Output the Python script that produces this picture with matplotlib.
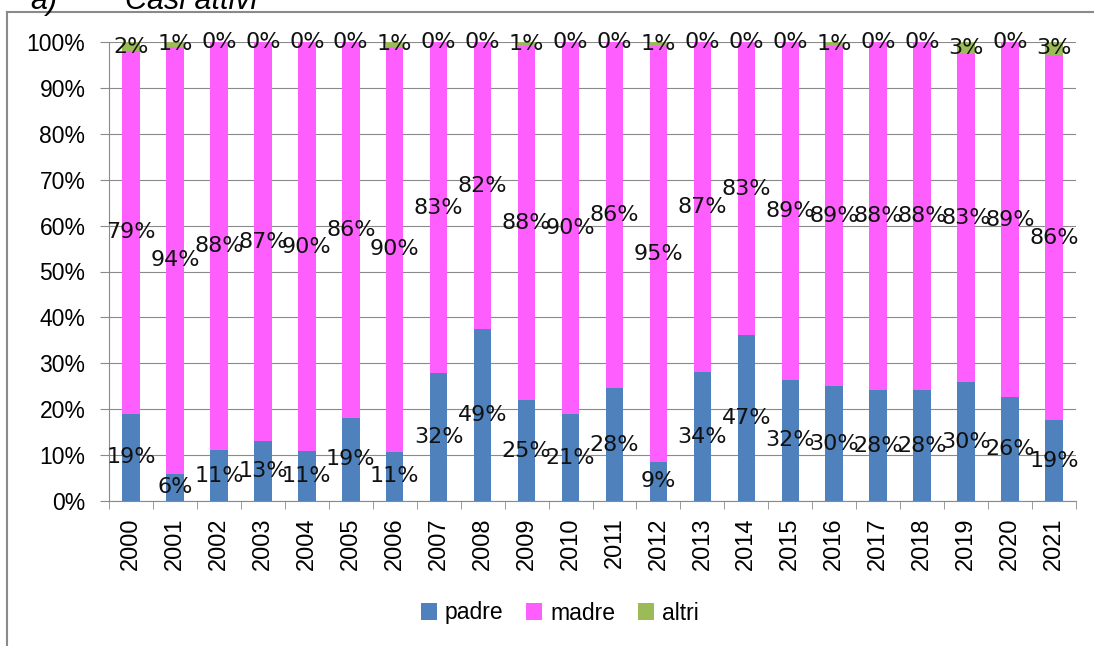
import numpy as np
import matplotlib.pyplot as plt
from matplotlib.lines import Line2D

years = ['2000', '2001', '2002', '2003', '2004', '2005', '2006', '2007', '2008', '2009', '2010',
         '2011', '2012', '2013', '2014', '2015', '2016', '2017', '2018', '2019', '2020', '2021']
padre = [19, 6, 11, 13, 11, 19, 11, 32, 49, 25, 21, 28, 9, 34, 47, 32, 30, 28, 28, 30, 26, 19]
madre = [79, 94, 88, 87, 90, 86, 90, 83, 82, 88, 90, 86, 95, 87, 83, 89, 89, 88, 88, 83, 89, 86]
altri = [2, 1, 0, 0, 0, 0, 1, 0, 0, 1, 0, 0, 1, 0, 0, 0, 1, 0, 0, 3, 0, 3]
series_names = ['padre', 'madre', 'altri']
colors = ['#4F81BD', '#FF5EFF', '#9BBB59']
yticks = [0, 10, 20, 30, 40, 50, 60, 70, 80, 90, 100]

W, H = 1094, 646
fig = plt.figure(figsize=(W / 100, H / 100), dpi=100)
ax = fig.add_axes([109 / W, 1 - 501 / H, 967 / W, 459 / H])

# bars are the raw shares rescaled to 100%
raw = np.array([padre, madre, altri], dtype=float)
share = raw / raw.sum(axis=0) * 100
x = np.arange(len(years))
bottom = np.zeros(len(years))
for k in range(3):
    ax.bar(x, share[k], 0.4, bottom=bottom, color=colors[k], label=series_names[k], zorder=3)
    for i in range(len(years)):
        ax.text(x[i], bottom[i] + share[k][i] / 2, f"{int(raw[k][i])}%", ha='center', va='center',
                fontsize=16, family='DejaVu Sans', color='#111111', zorder=5)
    bottom += share[k]

grey = '#8a8a8a'
ax.set_xlim(-0.5, len(years) - 0.5)
ax.set_ylim(0, 100)
ax.set_yticks(yticks)
ax.set_yticklabels([f"{v}%" for v in yticks], family='Liberation Sans', fontsize=16.5)
ax.yaxis.grid(True, color=grey, lw=0.8, zorder=0)
ax.tick_params(axis='y', direction='out', length=6.5, color=grey, pad=10.5)
ax.set_xticks(x)
ax.set_xticklabels(years, rotation=90, family='Liberation Sans', fontsize=17)
ax.tick_params(axis='x', length=0, pad=12)
ax.set_xticks(np.arange(-0.5, len(years)), minor=True)
ax.tick_params(axis='x', which='minor', direction='out', length=6, color=grey)
for s in ['top', 'right']:
    ax.spines[s].set_visible(False)
for s in ['left', 'bottom']:
    ax.spines[s].set_color(grey)

fig.legend(loc='center', bbox_to_anchor=(560 / W, 1 - 613 / H), ncol=3, frameon=False,
           prop={'family': 'Liberation Sans', 'size': 16.5}, handlelength=0.7, handleheight=0.7,
           handletextpad=0.35, columnspacing=1.0)

# chart border and the heading cut off at the top, as in the source
fig.add_artist(Line2D([7 / W, 7 / W], [0, 1 - 12 / H], color=grey, lw=1.5))
fig.add_artist(Line2D([7 / W, 1], [1 - 12 / H, 1 - 12 / H], color=grey, lw=1.5))
fig.text(30 / W, 1 - 9 / H, "a)", fontsize=22, style='italic', family='Liberation Sans', va='baseline')
fig.text(125 / W, 1 - 9 / H, "Casi attivi", fontsize=22, style='italic', family='Liberation Sans', va='baseline')

fig.savefig('out.png', dpi=100)
